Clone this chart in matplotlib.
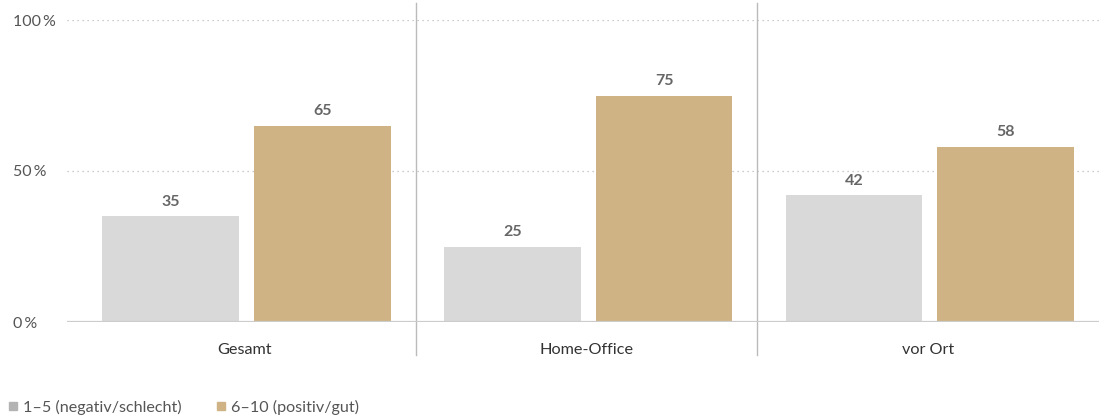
import matplotlib
matplotlib.use("Agg")
import matplotlib.pyplot as plt
from matplotlib.lines import Line2D

plt.rcParams['font.family'] = ['Lato', 'DejaVu Sans']

categories = ["Gesamt", "Home-Office", "vor Ort"]
series_names = ["1\u20135 (negativ/schlecht)", "6\u201310 (positiv/gut)"]
neg_values = [35, 25, 42]
pos_values = [65, 75, 58]
ytick_values = [0, 50, 100]
ytick_labels = ["0\u2009%", "50\u2009%", "100\u2009%"]

gray = "#d9d9d9"
gray_legend = "#b3b3b3"
gold = "#cfb385"
text_col = "#555555"

W, H = 1099, 418
fig = plt.figure(figsize=(W / 100, H / 100), dpi=100)
ax = fig.add_axes([67 / W, (H - 322) / H, (W - 67) / W, 302 / H])

x = list(range(len(categories)))
bw = 0.40
off = 0.222
shift = 0.005
b1 = ax.bar([i - off + shift for i in x], neg_values, width=bw, color=gray, zorder=2)
b2 = ax.bar([i + off + shift for i in x], pos_values, width=bw, color=gold, zorder=2)

for bars, vals in ((b1, neg_values), (b2, pos_values)):
    for r, v in zip(bars, vals):
        ax.annotate(f"{v}", (r.get_x() + r.get_width() / 2, v), xytext=(0, 5.5),
                    textcoords="offset points", ha="center", va="bottom",
                    fontsize=11.5, fontweight="bold", color="#666666")

ax.set_xlim(-0.5 - 7 / 342, 2.5)
ax.set_ylim(0, 100)

for s in ax.spines.values():
    s.set_visible(False)

for yv in ytick_values[1:]:
    ax.axhline(yv, color="#bbbbbb", linestyle=(0, (1, 3)), linewidth=0.9, zorder=1)
ax.axhline(0, color="#cccccc", linewidth=1.6, zorder=3)

for i in range(1, len(categories)):
    ax.plot([i - 0.5, i - 0.5], [-11, 105.5], color="#bbbbbb", linewidth=1.0,
            clip_on=False, zorder=1)

ax.set_yticks(ytick_values)
ax.set_yticklabels(ytick_labels, fontsize=11.5, color=text_col, ha="left")
ax.tick_params(axis="y", length=0, pad=39)
ax.set_xticks(x)
ax.set_xticklabels(categories, fontsize=11.7, color="#333333")
ax.tick_params(axis="x", length=0, pad=15)

handles = [Line2D([], [], marker="s", linestyle="none", markersize=6.3,
                  markerfacecolor=gray_legend, markeredgecolor=gray_legend),
           Line2D([], [], marker="s", linestyle="none", markersize=6.3,
                  markerfacecolor=gold, markeredgecolor=gold)]
fig.legend(handles, series_names, loc="center left",
           bbox_to_anchor=(8 / W, 1 - 407 / H), ncol=2, frameon=False,
           fontsize=11.6, labelcolor=text_col, handlelength=0.6,
           handletextpad=0.35, columnspacing=2.1, borderaxespad=0, borderpad=0)

fig.savefig("out.png", dpi=100)
